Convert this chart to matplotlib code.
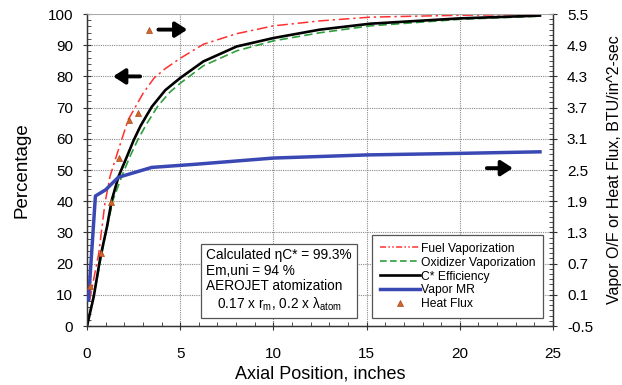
import matplotlib
matplotlib.use("Agg")
import matplotlib.pyplot as plt
from matplotlib.ticker import MultipleLocator, FixedLocator
from matplotlib.lines import Line2D

plt.rcParams['font.family'] = ['Liberation Sans', 'DejaVu Sans']
plt.rcParams['mathtext.default'] = 'regular'

# fuel vaporization, percent
fuel_x = [0.13, 0.63, 0.96, 1.23, 1.68, 2.2, 3.0, 3.6, 4.2, 5.0, 6.24, 8.03, 10.0, 12.5, 15.2, 20.0, 24.3]
fuel_y = [8.0, 23.3, 39.3, 47.9, 56.4, 66.0, 74.5, 79.5, 82.5, 85.8, 90.3, 93.7, 96.2, 97.8, 99.0, 99.6, 99.9]

# oxidizer vaporization, percent
ox_x = [0.0, 0.5, 1.0, 1.4, 1.86, 2.3, 2.75, 3.2, 3.8, 4.45, 5.0, 6.24, 8.03, 10.0, 12.5, 15.2, 20.0, 24.3]
ox_y = [0.0, 14.0, 29.5, 40.5, 47.9, 54.3, 60.0, 64.8, 70.5, 75.0, 77.8, 83.4, 88.2, 91.4, 94.0, 96.2, 98.3, 99.3]

# C* efficiency, percent
cstar_x = [0.0, 0.36, 0.72, 1.07, 1.33, 1.69, 2.14, 2.5, 2.86, 3.2, 3.48, 4.2, 5.0, 6.24, 8.03, 10.0, 12.5, 15.2, 20.0, 24.3]
cstar_y = [0.0, 9.4, 22.2, 31.8, 40.4, 47.9, 54.3, 59.5, 64.0, 67.5, 70.3, 75.6, 79.5, 84.8, 89.6, 92.3, 95.0, 96.9, 98.6, 99.5]

# vapor mixture ratio (right axis)
mr_x = [0.08, 0.45, 1.0, 1.68, 3.47, 5.8, 10.0, 15.0, 20.0, 24.3]
mr_y = [0.0, 2.0, 2.12, 2.36, 2.55, 2.61, 2.73, 2.79, 2.82, 2.85]

# heat flux, BTU/in^2-sec (right axis)
hf_x = [0.18, 0.75, 1.3, 1.73, 2.25, 2.75, 3.33]
hf_y = [0.27, 0.90, 1.89, 2.73, 3.47, 3.60, 5.19]

right_ticks = [-0.5, 0.1, 0.7, 1.3, 1.9, 2.5, 3.1, 3.7, 4.3, 4.9, 5.5]

fig = plt.figure(figsize=(6.22, 3.85), dpi=100)
ax = fig.add_axes([0.1399, 0.1532, 0.7492, 0.8104])
ax2 = ax.twinx()

ax.plot(fuel_x, fuel_y, color='#ff3030', lw=1.1, dashes=(7, 2.5, 1.5, 2.5), zorder=3)
ax.plot(ox_x, ox_y, color='#2f9e3c', lw=1.2, dashes=(5, 2.5), zorder=3)
ax.plot(cstar_x, cstar_y, color='black', lw=1.9, zorder=4)
ax2.plot(mr_x, mr_y, color='#3a48b4', lw=2.5, zorder=4)
ax2.plot(hf_x, hf_y, ls='none', marker='^', ms=5, color='#d2652c', mec='#a84a18', mew=0.5, zorder=5)

ax.set_xlim(0, 25)
ax.set_ylim(0, 100)
ax2.set_ylim(-0.5, 5.5)
ax.xaxis.set_major_locator(MultipleLocator(5))
ax.xaxis.set_minor_locator(MultipleLocator(1))
ax.yaxis.set_major_locator(MultipleLocator(10))
ax.yaxis.set_minor_locator(MultipleLocator(2))
ax2.yaxis.set_major_locator(FixedLocator(right_ticks))
ax2.yaxis.set_minor_locator(MultipleLocator(0.1))
ax2.set_yticklabels([f'{t:.1f}' for t in right_ticks])

ax.grid(True, which='major', color='#8a8a8a', ls=(0, (1, 1)), lw=0.8)
ax.set_axisbelow(True)

for a in (ax, ax2):
    a.tick_params(which='major', direction='inout', length=6, width=0.8, color='#333333', labelsize=11)
    a.tick_params(which='minor', direction='in', length=3, width=0.6, color='#333333')
    for s in ('left', 'bottom', 'right'):
        a.spines[s].set_color('#333333')
        a.spines[s].set_linewidth(0.9)
    a.spines['top'].set_color('#aaaaaa')
    a.spines['top'].set_linewidth(0.6)
ax.tick_params(axis='x', pad=12)
ax.tick_params(axis='y', pad=7)
ax2.tick_params(axis='y', pad=7)

ax.set_xlabel('Axial Position, inches', fontsize=13, labelpad=3)
ax.set_ylabel('Percentage', fontsize=13.5, labelpad=12)
ax2.set_ylabel('Vapor O/F or Heat Flux, BTU/in^2-sec', fontsize=11.5, labelpad=10)

# direction arrows pointing to the axis each curve belongs to
arrow_style = dict(arrowstyle='-|>,head_length=0.7,head_width=0.45', color='black', lw=2.8, shrinkA=0, shrinkB=0)
ax.annotate('', xy=(1.4, 80), xytext=(2.85, 80), arrowprops=arrow_style, zorder=6)
ax.annotate('', xy=(5.38, 95), xytext=(3.83, 95), arrowprops=arrow_style, zorder=6)
ax.annotate('', xy=(22.85, 50.6), xytext=(21.45, 50.6), arrowprops=arrow_style, zorder=6)

note = ('Calculated \u03b7C* = 99.3%\n'
        'Em,uni = 94 %\n'
        'AEROJET atomization\n'
        '   0.17 x r$_{m}$, 0.2 x \u03bb$_{atom}$')
ax.text(6.4, 25.0, note, fontsize=9.8, va='top', ha='left', linespacing=1.15, zorder=7,
        bbox=dict(boxstyle='square,pad=0.4', fc='white', ec='#555555', lw=0.9))

handles = [
    Line2D([], [], color='#ff3030', lw=1.1, dashes=(4, 1.5, 1, 1.5, 1, 1.5)),
    Line2D([], [], color='#2f9e3c', lw=1.2, dashes=(4, 2)),
    Line2D([], [], color='black', lw=1.9),
    Line2D([], [], color='#3a48b4', lw=2.5),
    Line2D([], [], ls='none', marker='^', ms=5, color='#d2652c', mec='#a84a18', mew=0.5),
]
labels = ['Fuel Vaporization', 'Oxidizer Vaporization', 'C* Efficiency', 'Vapor MR', 'Heat Flux']
leg = ax2.legend(handles, labels, loc='lower right', bbox_to_anchor=(0.978, 0.026), fontsize=8.7,
                 fancybox=False, framealpha=1, edgecolor='#555555', handlelength=3.3,
                 handletextpad=0.1, labelspacing=0.16, borderpad=0.62, borderaxespad=0)
leg.get_frame().set_linewidth(0.9)
leg.set_zorder(8)

fig.savefig('out.png', dpi=100)
